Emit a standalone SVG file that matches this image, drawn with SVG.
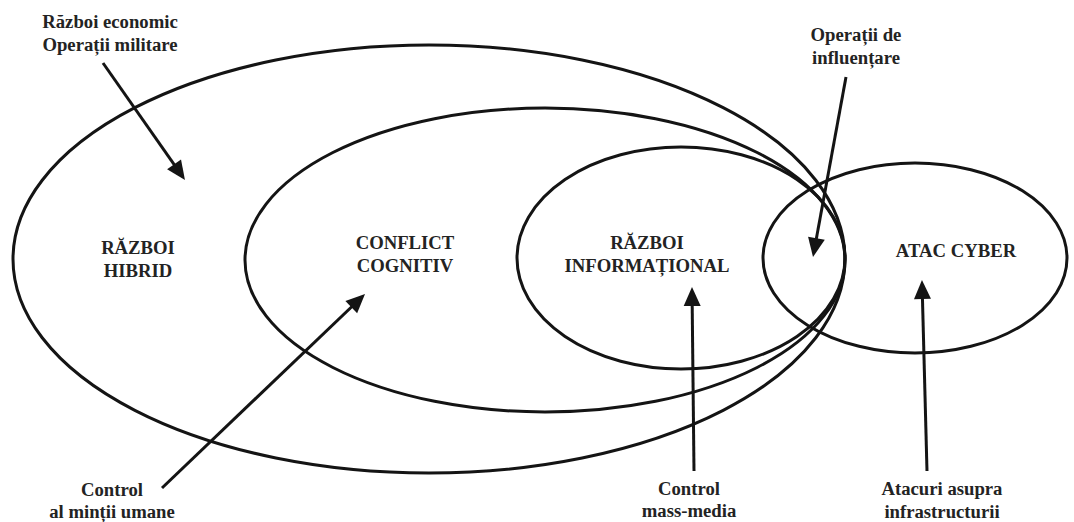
<svg xmlns="http://www.w3.org/2000/svg" width="1074" height="522" viewBox="0 0 1074 522">
  <style>
    .ring { fill: none; stroke: #141414; stroke-width: 3; }
    .lbl { font-weight: bold; font-size: 18.7px; fill: #232323; text-anchor: middle; }
    .arrow { fill: none; stroke: #141414; stroke-width: 3; marker-end: url(#head); }
  </style>
  <defs>
    <marker id="head" markerUnits="userSpaceOnUse" markerWidth="20" markerHeight="18" refX="14" refY="8.5" orient="auto" overflow="visible">
      <path d="M0,0 L19,8.5 L0,17 z" fill="#141414"/>
    </marker>
  </defs>
  <rect width="1074" height="522" fill="#ffffff"/>

  <g font-family="'Liberation Serif', 'DejaVu Serif', serif">
  <!-- nested domains -->
  <g id="razboi-hibrid">
    <ellipse class="ring" cx="429" cy="259" rx="416" ry="214"/>
    <text class="lbl" x="138" y="254">RĂZBOI</text>
    <text class="lbl" x="138" y="277">HIBRID</text>
  </g>
  <g id="conflict-cognitiv">
    <ellipse class="ring" cx="545" cy="260" rx="300" ry="152"/>
    <text class="lbl" x="405" y="249">CONFLICT</text>
    <text class="lbl" x="405" y="272">COGNITIV</text>
  </g>
  <g id="razboi-informational">
    <ellipse class="ring" cx="681" cy="258" rx="164" ry="111"/>
    <text class="lbl" x="647" y="249">RĂZBOI</text>
    <text class="lbl" x="647" y="272">INFORMAȚIONAL</text>
  </g>
  <g id="atac-cyber">
    <ellipse class="ring" cx="915" cy="258" rx="152" ry="95"/>
    <text class="lbl" x="956" y="257">ATAC CYBER</text>
  </g>

  <!-- annotations -->
  <g id="note-economic-militar">
    <text class="lbl" x="110" y="28">Război economic</text>
    <text class="lbl" x="110" y="51">Operații militare</text>
  </g>
  <g id="note-influentare">
    <text class="lbl" x="856" y="41">Operații de</text>
    <text class="lbl" x="856" y="64">influențare</text>
  </g>
  <g id="note-control-minte">
    <text class="lbl" x="112" y="496">Control</text>
    <text class="lbl" x="112" y="518">al minții umane</text>
  </g>
  <g id="note-mass-media">
    <text class="lbl" x="689" y="495">Control</text>
    <text class="lbl" x="689" y="517">mass-media</text>
  </g>
  <g id="note-infrastructura">
    <text class="lbl" x="942" y="495">Atacuri asupra</text>
    <text class="lbl" x="942" y="518">infrastructurii</text>
  </g>
  </g>

  <!-- pointers from annotations into domains -->
  <g id="connectors">
    <line class="arrow" x1="103" y1="63" x2="182.1" y2="175.9"/>
    <line class="arrow" x1="846" y1="77" x2="813.9" y2="252.1"/>
    <line class="arrow" x1="162" y1="488" x2="361.4" y2="297.5"/>
    <line class="arrow" x1="694" y1="471" x2="692.05" y2="292"/>
    <line class="arrow" x1="927" y1="471" x2="922.1" y2="285"/>
  </g>
</svg>
